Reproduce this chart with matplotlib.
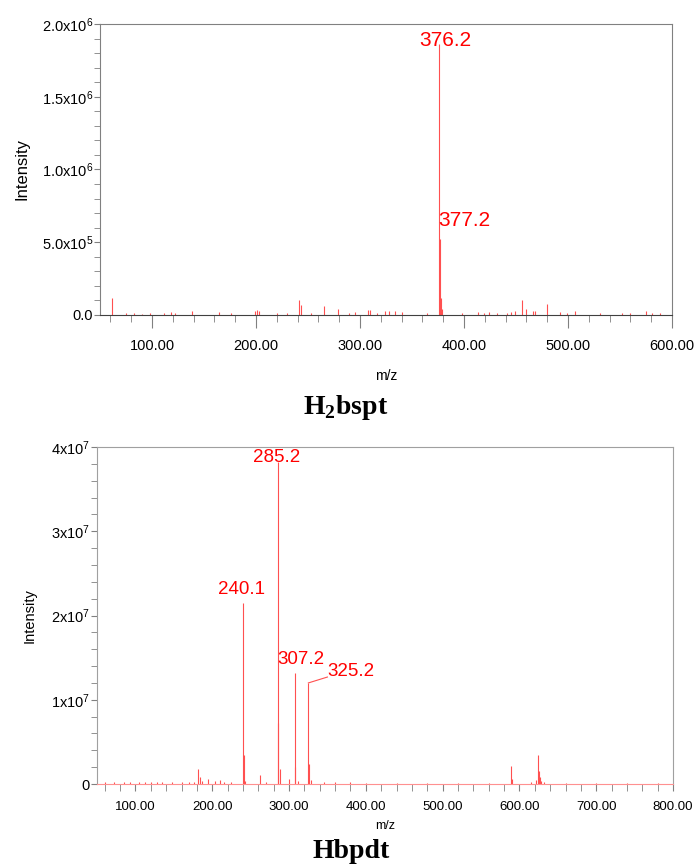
import matplotlib.pyplot as plt
from matplotlib.ticker import MultipleLocator, FuncFormatter

# H2bspt spectrum (m/z, intensity)
top_mz = [62, 75, 83, 90, 98, 112, 118, 122, 138, 164, 176, 199, 201, 203, 220, 230,
          241, 243, 253, 265, 279, 289, 295, 308, 310, 316, 324, 328, 334, 340, 364,
          376.2, 377.2, 378.2, 379, 398, 413, 419, 424, 432, 441, 445, 449, 456, 460,
          466, 468, 480, 492, 499, 507, 531, 552, 560, 575, 581, 588]
top_int = [1.15e5, 1.5e4, 1.2e4, 1.0e4, 1.2e4, 1.5e4, 2.0e4, 1.2e4, 2.5e4, 1.8e4, 1.5e4,
           3.0e4, 3.2e4, 2.8e4, 1.2e4, 1.5e4, 1.0e5, 7.0e4, 1.5e4, 6.0e4, 4.0e4, 1.5e4,
           1.8e4, 3.5e4, 3.2e4, 1.5e4, 2.8e4, 2.5e4, 2.5e4, 2.0e4, 1.5e4,
           1.86e6, 5.2e5, 1.2e5, 4.0e4, 1.2e4, 2.0e4, 1.5e4, 2.0e4, 1.5e4, 1.5e4, 2.0e4,
           2.5e4, 1.0e5, 4.0e4, 3.0e4, 3.0e4, 7.5e4, 2.0e4, 1.5e4, 3.0e4, 1.5e4, 1.5e4,
           1.5e4, 3.0e4, 1.5e4, 1.5e4]
top_labels = ['376.2', '377.2']

# Hbpdt spectrum (m/z, intensity)
bot_mz = [60, 72, 85, 93, 105, 112, 120, 128, 135, 148, 160, 170, 176, 182.1, 184, 187,
          195, 203, 210, 215, 225, 240.1, 241.1, 243, 262, 270, 285.2, 286.2, 288, 300,
          307.2, 308.2, 312, 325.2, 326.2, 328, 345, 360, 380, 400, 440, 480, 520, 560,
          589.2, 590.2, 615, 622, 624.2, 625.2, 626.2, 628, 632, 660, 700, 740, 780]
bot_int = [2.0e5, 2.5e5, 2.0e5, 3.0e5, 2.5e5, 3.0e5, 2.5e5, 3.0e5, 2.0e5, 2.5e5, 2.5e5,
           3.0e5, 3.0e5, 1.75e6, 8.0e5, 4.0e5, 6.0e5, 4.0e5, 5.0e5, 3.0e5, 2.0e5,
           2.15e7, 3.4e6, 4.0e5, 1.1e6, 2.0e5, 3.82e7, 7.2e6, 1.8e6, 6.0e5,
           1.32e7, 2.0e6, 4.0e5, 1.2e7, 2.4e6, 5.0e5, 3.0e5, 2.0e5, 2.0e5, 1.5e5, 1.5e5,
           1.5e5, 1.5e5, 1.5e5, 2.1e6, 6.0e5, 3.0e5, 5.0e5, 3.4e6, 1.5e6, 8.0e5, 4.0e5,
           3.0e5, 1.5e5, 1.5e5, 1.5e5, 1.5e5]
bot_labels = ['240.1', '285.2', '307.2', '325.2']

red = '#ff5050'
gray = '#808080'
sans = ['Liberation Sans', 'DejaVu Sans']

fig = plt.figure(figsize=(6.96, 8.67), dpi=100)

# ---- top panel ----
ax1 = fig.add_axes([0.1437, 0.6367, 0.8218, 0.3356])
ax1.vlines(top_mz, 0, top_int, color=red, lw=0.8)
ax1.set_xlim(50, 600)
ax1.set_ylim(0, 2.0e6)
ax1.xaxis.set_major_locator(MultipleLocator(100))
ax1.xaxis.set_minor_locator(MultipleLocator(20))
ax1.yaxis.set_major_locator(MultipleLocator(5e5))
ax1.yaxis.set_minor_locator(MultipleLocator(1e5))
ax1.xaxis.set_major_formatter(FuncFormatter(lambda v, p: '%.2f' % v))

def top_fmt(v, p):
    if v == 0:
        return '0.0'
    e = 6 if v >= 1e6 else 5
    return r'$\mathregular{%.1fx10^{%d}}$' % (v / 10 ** e, e)

ax1.yaxis.set_major_formatter(FuncFormatter(top_fmt))
for lab in ax1.get_xticklabels() + ax1.get_yticklabels():
    lab.set_family(sans)
ax1.tick_params(axis='x', which='major', length=9, color=gray, labelsize=10.5, pad=8)
ax1.tick_params(axis='x', which='minor', length=5, color=gray)
ax1.tick_params(axis='y', which='both', length=4, color=gray, labelsize=10.5, pad=1)
for s in ax1.spines.values():
    s.set_color(gray)
ax1.spines['bottom'].set_color('#404040')
ax1.set_xlabel('m/z', family=sans, fontsize=10, labelpad=12)
ax1.set_ylabel('Intensity', family=sans, fontsize=12, labelpad=9)
ax1.text(382, 1.89e6, top_labels[0], color='red', fontsize=15, family=sans,
         ha='center', va='center')
ax1.text(375, 6.5e5, top_labels[1], color='red', fontsize=15, family=sans,
         ha='left', va='center')

# ---- bottom panel ----
ax2 = fig.add_axes([0.1394, 0.0957, 0.8276, 0.3887])
ax2.vlines(bot_mz, 0, bot_int, color=red, lw=0.8)
ax2.set_xlim(50, 800)
ax2.set_ylim(0, 4e7)
ax2.xaxis.set_major_locator(MultipleLocator(100))
ax2.xaxis.set_minor_locator(MultipleLocator(20))
ax2.yaxis.set_major_locator(MultipleLocator(1e7))
ax2.yaxis.set_minor_locator(MultipleLocator(2e6))
ax2.xaxis.set_major_formatter(FuncFormatter(lambda v, p: '%.2f' % v))
ax2.yaxis.set_major_formatter(FuncFormatter(
    lambda v, p: '0' if v == 0 else r'$\mathregular{%dx10^{7}}$' % round(v / 1e7)))
for lab in ax2.get_xticklabels() + ax2.get_yticklabels():
    lab.set_family(sans)
ax2.tick_params(axis='x', which='both', length=5, color=gray, labelsize=9.5, pad=7)
ax2.tick_params(axis='y', which='both', length=4, color=gray, labelsize=10.5, pad=1)
for s in ax2.spines.values():
    s.set_color('#a0a0a0')
ax2.spines['bottom'].set_color('#ff9090')
ax2.set_xlabel('m/z', family=sans, fontsize=9, labelpad=5)
ax2.set_ylabel('Intensity', family=sans, fontsize=10.5, labelpad=10)
lab_pos = [(238, 2.31e7), (284, 3.88e7), (316, 1.48e7), (380, 1.33e7)]
for t, (x, y) in zip(bot_labels, lab_pos):
    ax2.text(x, y, t, color='red', fontsize=13.5, family=sans, ha='center', va='center')
ax2.plot([325.2, 350], [1.2e7, 1.27e7], color=red, lw=0.8)

# compound names
fig.text(0.497, 1 - 408 / 867, r'H$_{\mathregular{2}}$bspt', ha='center', va='center',
         family=['Liberation Serif', 'DejaVu Serif'], weight='bold', fontsize=20)
fig.text(0.504, 1 - 851 / 867, 'Hbpdt', ha='center', va='center',
         family=['Liberation Serif', 'DejaVu Serif'], weight='bold', fontsize=20)

fig.savefig('out.png', dpi=100)
